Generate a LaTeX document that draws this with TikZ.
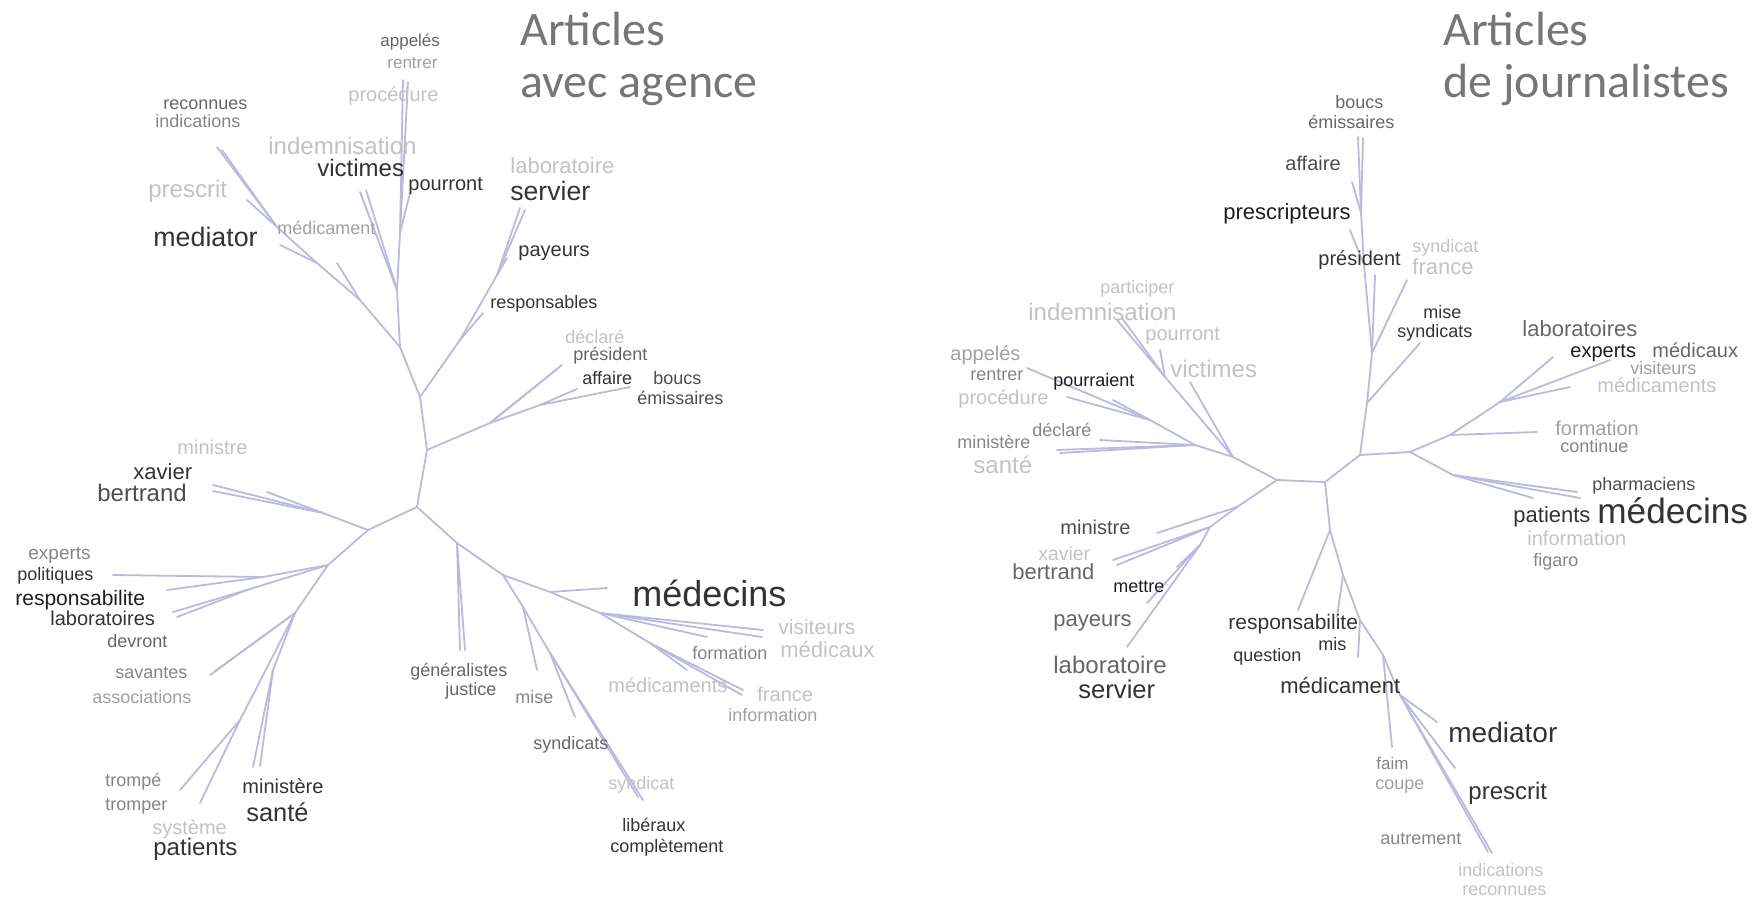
\documentclass[tikz,border=0pt]{standalone}
\usepackage{fontspec}
\setmainfont{Liberation Sans}
\newfontfamily\titlefont{Carlito}
\usepackage{xcolor}
\usepackage{tikz}
\definecolor{twig}{RGB}{186,186,222}
\definecolor{headgray}{HTML}{767676}
\definecolor{ink0}{HTML}{1E1E1E}
\definecolor{ink1}{HTML}{333333}
\definecolor{ink2}{HTML}{4D4D4D}
\definecolor{ink3}{HTML}{666666}
\definecolor{ink4}{HTML}{858585}
\definecolor{ink5}{HTML}{A0A0A0}
\definecolor{ink6}{HTML}{C2C2C2}
\tikzset{
    word/.style={anchor=mid west, inner sep=0pt},
    fs/.style={font=\fontsize{#1}{#1}\selectfont, yshift={-(0.3*#1-2)*1pt}},
    branch/.style={draw=twig, line width=0.9pt, line cap=round},
    heading/.style={anchor=base west, inner sep=0pt, text=headgray, font=\titlefont\fontsize{24}{24}\selectfont}
}

\begin{document}
\begin{tikzpicture}[x=0.5pt, y=-0.5pt]
    \useasboundingbox (0,0) rectangle (1754,900);

    % titles
    \node[heading] (hA1) at (520,45) {Articles};
    \node[heading] (hA2) at (520,97) {avec agence};
    \node[heading] (hJ1) at (1443,45) {Articles};
    \node[heading] (hJ2) at (1443,97) {de journalistes};

    % ---- tree: articles avec agence ----
    \coordinate (a0) at (417,507);
    \coordinate (a1) at (427,450);
    \coordinate (a2) at (420,397);
    \coordinate (aB1) at (490,423);
    \coordinate (aB2) at (540,405);
    \coordinate (aLdec) at (562,365);
    \coordinate (aLpre) at (557,369);
    \coordinate (aLaff) at (577,389);
    \coordinate (aLbou) at (630,387);
    \coordinate (aS1) at (460,340);
    \coordinate (aS2) at (497,275);
    \coordinate (aLresp) at (483,313);
    \coordinate (aLpay) at (507,258);
    \coordinate (aLser) at (520,208);
    \coordinate (aLlab) at (525,210);
    \coordinate (aU) at (400,347);
    \coordinate (aV1) at (397,290);
    \coordinate (aV2) at (400,233);
    \coordinate (aLapp) at (403,80);
    \coordinate (aLren) at (408,82);
    \coordinate (aLvic) at (360,192);
    \coordinate (aLind) at (366,190);
    \coordinate (aLpou) at (410,193);
    \coordinate (aM1) at (360,300);
    \coordinate (aM2) at (317,263);
    \coordinate (aM3) at (277,227);
    \coordinate (aLrec) at (217,147);
    \coordinate (aLindic) at (222,150);
    \coordinate (aLpres) at (247,200);
    \coordinate (aLmed) at (280,245);
    \coordinate (aLmedic) at (337,263);
    \coordinate (aX) at (368,530);
    \coordinate (aX1) at (323,513);
    \coordinate (aLxav) at (213,485);
    \coordinate (aLber) at (213,491);
    \coordinate (aLmin) at (267,492);
    \coordinate (aP) at (328,565);
    \coordinate (aP1) at (263,577);
    \coordinate (aP2) at (250,589);
    \coordinate (aLexp) at (113,575);
    \coordinate (aLpol) at (167,590);
    \coordinate (aLres) at (173,612);
    \coordinate (aLlabo) at (177,617);
    \coordinate (aQ) at (295,613);
    \coordinate (aQ1) at (273,670);
    \coordinate (aQ2) at (240,720);
    \coordinate (aLsav) at (210,675);
    \coordinate (aLass) at (214,672);
    \coordinate (aLmini) at (253,767);
    \coordinate (aLsan) at (260,766);
    \coordinate (aLtro) at (180,790);
    \coordinate (aLtrp) at (200,803);
    \coordinate (aR1) at (457,543);
    \coordinate (aLgen) at (460,650);
    \coordinate (aLjus) at (465,650);
    \coordinate (aR2) at (503,575);
    \coordinate (aR3) at (523,607);
    \coordinate (aR4) at (550,653);
    \coordinate (aLmise) at (537,670);
    \coordinate (aLsyn) at (575,717);
    \coordinate (aLlib) at (643,800);
    \coordinate (aLcom) at (638,797);
    \coordinate (aR5) at (550,592);
    \coordinate (aLmdc) at (607,588);
    \coordinate (aR6) at (600,613);
    \coordinate (aR7) at (650,643);
    \coordinate (aLvis) at (763,630);
    \coordinate (aLmcx) at (762,637);
    \coordinate (aLfor) at (707,637);
    \coordinate (aLmdt) at (687,670);
    \coordinate (aLfra) at (743,690);
    \coordinate (aLinf) at (742,695);

    \draw[branch] (a0) -- (a1) -- (a2);
    \draw[branch] (a1) -- (aB1) -- (aLdec);
    \draw[branch] (aB1) -- (aLpre);
    \draw[branch] (aB1) -- (aB2) -- (aLaff);
    \draw[branch] (aB2) -- (aLbou);
    \draw[branch] (a2) -- (aS1) -- (aLresp);
    \draw[branch] (aS1) -- (aS2) -- (aLpay);
    \draw[branch] (aS2) -- (aLser);
    \draw[branch] (aS2) -- (aLlab);
    \draw[branch] (a2) -- (aU) -- (aV1) -- (aV2) -- (aLapp);
    \draw[branch] (aV2) -- (aLren);
    \draw[branch] (aV2) -- (aLpou);
    \draw[branch] (aV1) -- (aLvic);
    \draw[branch] (aV1) -- (aLind);
    \draw[branch] (aU) -- (aM1) -- (aM2) -- (aM3) -- (aLrec);
    \draw[branch] (aM3) -- (aLindic);
    \draw[branch] (aM3) -- (aLpres);
    \draw[branch] (aM2) -- (aLmed);
    \draw[branch] (aM1) -- (aLmedic);
    \draw[branch] (a0) -- (aX) -- (aX1) -- (aLxav);
    \draw[branch] (aX1) -- (aLber);
    \draw[branch] (aX1) -- (aLmin);
    \draw[branch] (aX) -- (aP) -- (aP1) -- (aLexp);
    \draw[branch] (aP1) -- (aLpol);
    \draw[branch] (aP) -- (aP2) -- (aLres);
    \draw[branch] (aP2) -- (aLlabo);
    \draw[branch] (aP) -- (aQ) -- (aLsav);
    \draw[branch] (aQ) -- (aLass);
    \draw[branch] (aQ) -- (aQ1) -- (aLmini);
    \draw[branch] (aQ1) -- (aLsan);
    \draw[branch] (aQ) -- (aQ2) -- (aLtro);
    \draw[branch] (aQ2) -- (aLtrp);
    \draw[branch] (a0) -- (aR1) -- (aLgen);
    \draw[branch] (aR1) -- (aLjus);
    \draw[branch] (aR1) -- (aR2) -- (aR3) -- (aLmise);
    \draw[branch] (aR3) -- (aR4) -- (aLsyn);
    \draw[branch] (aR4) -- (aLlib);
    \draw[branch] (aR4) -- (aLcom);
    \draw[branch] (aR2) -- (aR5) -- (aLmdc);
    \draw[branch] (aR5) -- (aR6) -- (aLvis);
    \draw[branch] (aR6) -- (aLmcx);
    \draw[branch] (aR6) -- (aLfor);
    \draw[branch] (aR6) -- (aR7) -- (aLmdt);
    \draw[branch] (aR7) -- (aLfra);
    \draw[branch] (aR7) -- (aLinf);

    \node[word, fs=8.5, text=ink3] (aAppeles) at (380,40) {appelés};
    \node[word, fs=8.5, text=ink5] (aRentrer) at (387,62) {rentrer};
    \node[word, fs=10, text=ink6] (aProcedure) at (348,94) {procédure};
    \node[word, fs=9, text=ink3] (aReconnues) at (163,103) {reconnues};
    \node[word, fs=9, text=ink4] (aIndications) at (155,121) {indications};
    \node[word, fs=12, text=ink6] (aIndemnisation) at (268,146) {indemnisation};
    \node[word, fs=12, text=ink1] (aVictimes) at (317,168) {victimes};
    \node[word, fs=10, text=ink1] (aPourront) at (408,183) {pourront};
    \node[word, fs=12, text=ink6] (aPrescrit) at (148,189) {prescrit};
    \node[word, fs=9, text=ink5] (aMedicament) at (277,228) {médicament};
    \node[word, fs=13.4, text=ink1] (aMediator) at (153,237) {mediator};
    \node[word, fs=11, text=ink6] (aLaboratoire) at (510,166) {laboratoire};
    \node[word, fs=13.3, text=ink1] (aServier) at (510,191) {servier};
    \node[word, fs=10, text=ink1] (aPayeurs) at (518,249) {payeurs};
    \node[word, fs=9, text=ink1] (aResponsables) at (490,302) {responsables};
    \node[word, fs=9, text=ink6] (aDeclare) at (565,337) {déclaré};
    \node[word, fs=9, text=ink3] (aPresident) at (573,354) {président};
    \node[word, fs=9, text=ink1] (aAffaire) at (582,378) {affaire};
    \node[word, fs=9, text=ink2] (aBoucs) at (653,378) {boucs};
    \node[word, fs=9, text=ink2] (aEmissaires) at (637,398) {émissaires};
    \node[word, fs=10, text=ink6] (aMinistre) at (177,447) {ministre};
    \node[word, fs=11, text=ink1] (aXavier) at (133,472) {xavier};
    \node[word, fs=12, text=ink2] (aBertrand) at (97,493) {bertrand};
    \node[word, fs=9.5, text=ink4] (aExperts) at (28,553) {experts};
    \node[word, fs=9, text=ink1] (aPolitiques) at (17,574) {politiques};
    \node[word, fs=10.5, text=ink0] (aResponsabilite) at (15,598) {responsabilite};
    \node[word, fs=10, text=ink1] (aLaboratoires) at (50,618) {laboratoires};
    \node[word, fs=9, text=ink3] (aDevront) at (107,641) {devront};
    \node[word, fs=9, text=ink4] (aSavantes) at (115,672) {savantes};
    \node[word, fs=9, text=ink5] (aAssociations) at (92,697) {associations};
    \node[word, fs=9, text=ink4] (aTrompe) at (105,780) {trompé};
    \node[word, fs=9, text=ink4] (aTromper) at (105,804) {tromper};
    \node[word, fs=10, text=ink6] (aSysteme) at (152,827) {système};
    \node[word, fs=12, text=ink1] (aPatients) at (153,847) {patients};
    \node[word, fs=10, text=ink1] (aMinistere) at (242,786) {ministère};
    \node[word, fs=12.7, text=ink1] (aSante) at (246,813) {santé};
    \node[word, fs=18, text=ink1] (aMedecins) at (632,594) {médecins};
    \node[word, fs=10.5, text=ink6] (aVisiteurs) at (778,627) {visiteurs};
    \node[word, fs=11, text=ink6] (aMedicaux) at (780,650) {médicaux};
    \node[word, fs=9, text=ink4] (aFormation) at (692,653) {formation};
    \node[word, fs=10, text=ink6] (aMedicaments) at (608,685) {médicaments};
    \node[word, fs=10, text=ink6] (aFrance) at (757,694) {france};
    \node[word, fs=9, text=ink5] (aInformation) at (728,715) {information};
    \node[word, fs=9, text=ink3] (aGeneralistes) at (410,670) {généralistes};
    \node[word, fs=9, text=ink3] (aJustice) at (445,689) {justice};
    \node[word, fs=9, text=ink4] (aMise) at (515,697) {mise};
    \node[word, fs=9, text=ink3] (aSyndicats) at (533,743) {syndicats};
    \node[word, fs=9, text=ink6] (aSyndicat) at (608,783) {syndicat};
    \node[word, fs=9, text=ink1] (aLiberaux) at (622,825) {libéraux};
    \node[word, fs=9, text=ink1] (aCompletement) at (610,846) {complètement};

    % ---- tree: articles de journalistes ----
    \coordinate (j0) at (1277,480);
    \coordinate (j1) at (1325,482);
    \coordinate (j2) at (1360,455);
    \coordinate (j3) at (1410,452);
    \coordinate (jV1) at (1367,403);
    \coordinate (jLmis) at (1420,343);
    \coordinate (jV2) at (1372,353);
    \coordinate (jLfra) at (1407,280);
    \coordinate (jLpre) at (1375,275);
    \coordinate (jV3) at (1364,265);
    \coordinate (jLpsc) at (1350,230);
    \coordinate (jV4) at (1361,213);
    \coordinate (jLaff) at (1352,182);
    \coordinate (jLbou) at (1358,137);
    \coordinate (jLemi) at (1363,138);
    \coordinate (jE1) at (1450,435);
    \coordinate (jLfor) at (1537,432);
    \coordinate (jE2) at (1500,402);
    \coordinate (jLlab) at (1553,357);
    \coordinate (jLexp) at (1610,360);
    \coordinate (jLmdt) at (1570,387);
    \coordinate (jP1) at (1453,475);
    \coordinate (jLpat) at (1533,498);
    \coordinate (jLmdc) at (1580,498);
    \coordinate (jLpha) at (1577,492);
    \coordinate (jD1) at (1330,530);
    \coordinate (jLres) at (1298,610);
    \coordinate (jD2) at (1343,575);
    \coordinate (jLmis2) at (1337,617);
    \coordinate (jD3) at (1360,620);
    \coordinate (jLmed) at (1358,657);
    \coordinate (jD4) at (1383,655);
    \coordinate (jLfai) at (1392,747);
    \coordinate (jD5) at (1400,695);
    \coordinate (jLmdr) at (1437,722);
    \coordinate (jLpsc2) at (1455,768);
    \coordinate (jLind) at (1492,853);
    \coordinate (jLrec) at (1488,852);
    \coordinate (jL1) at (1233,457);
    \coordinate (jLvic) at (1190,382);
    \coordinate (jI1) at (1165,377);
    \coordinate (jLidm) at (1117,320);
    \coordinate (jLpar) at (1122,318);
    \coordinate (jLpou) at (1160,350);
    \coordinate (jL3) at (1195,445);
    \coordinate (jLmin) at (1057,450);
    \coordinate (jLsan) at (1060,453);
    \coordinate (jLdec) at (1100,440);
    \coordinate (jL4) at (1150,420);
    \coordinate (jLapp) at (1027,368);
    \coordinate (jLpro) at (1067,397);
    \coordinate (jLpor) at (1113,400);
    \coordinate (jM1) at (1237,507);
    \coordinate (jLmin2) at (1157,533);
    \coordinate (jM2) at (1210,527);
    \coordinate (jLxav) at (1113,560);
    \coordinate (jLber) at (1117,565);
    \coordinate (jM3) at (1200,545);
    \coordinate (jLlab2) at (1127,647);
    \coordinate (jLmet) at (1177,567);
    \coordinate (jLpay) at (1147,603);

    \draw[branch] (j0) -- (j1) -- (j2) -- (j3);
    \draw[branch] (j2) -- (jV1) -- (jLmis);
    \draw[branch] (jV1) -- (jV2) -- (jLfra);
    \draw[branch] (jV2) -- (jLpre);
    \draw[branch] (jV2) -- (jV3) -- (jLpsc);
    \draw[branch] (jV3) -- (jV4) -- (jLaff);
    \draw[branch] (jV4) -- (jLbou);
    \draw[branch] (jV4) -- (jLemi);
    \draw[branch] (j3) -- (jE1) -- (jLfor);
    \draw[branch] (jE1) -- (jE2) -- (jLlab);
    \draw[branch] (jE2) -- (jLexp);
    \draw[branch] (jE2) -- (jLmdt);
    \draw[branch] (j3) -- (jP1) -- (jLpat);
    \draw[branch] (jP1) -- (jLmdc);
    \draw[branch] (jP1) -- (jLpha);
    \draw[branch] (j1) -- (jD1) -- (jLres);
    \draw[branch] (jD1) -- (jD2) -- (jLmis2);
    \draw[branch] (jD2) -- (jD3) -- (jLmed);
    \draw[branch] (jD3) -- (jD4) -- (jLfai);
    \draw[branch] (jD4) -- (jD5) -- (jLmdr);
    \draw[branch] (jD5) -- (jLpsc2);
    \draw[branch] (jD5) -- (jLind);
    \draw[branch] (jD5) -- (jLrec);
    \draw[branch] (j0) -- (jL1) -- (jLvic);
    \draw[branch] (jL1) -- (jI1) -- (jLidm);
    \draw[branch] (jI1) -- (jLpar);
    \draw[branch] (jI1) -- (jLpou);
    \draw[branch] (jL1) -- (jL3) -- (jLmin);
    \draw[branch] (jL3) -- (jLsan);
    \draw[branch] (jL3) -- (jLdec);
    \draw[branch] (jL3) -- (jL4) -- (jLapp);
    \draw[branch] (jL4) -- (jLpro);
    \draw[branch] (jL4) -- (jLpor);
    \draw[branch] (j0) -- (jM1) -- (jLmin2);
    \draw[branch] (jM1) -- (jM2) -- (jLxav);
    \draw[branch] (jM2) -- (jLber);
    \draw[branch] (jM2) -- (jM3) -- (jLlab2);
    \draw[branch] (jM3) -- (jLmet);
    \draw[branch] (jM3) -- (jLpay);

    \node[word, fs=9, text=ink3] (jBoucs) at (1335,102) {boucs};
    \node[word, fs=9, text=ink3] (jEmissaires) at (1308,122) {émissaires};
    \node[word, fs=10, text=ink2] (jAffaire) at (1285,163) {affaire};
    \node[word, fs=11, text=ink0] (jPrescripteurs) at (1223,212) {prescripteurs};
    \node[word, fs=10, text=ink1] (jPresident) at (1318,258) {président};
    \node[word, fs=9, text=ink6] (jSyndicat) at (1412,246) {syndicat};
    \node[word, fs=11, text=ink6] (jFrance) at (1412,267) {france};
    \node[word, fs=9, text=ink1] (jMise) at (1423,312) {mise};
    \node[word, fs=9, text=ink1] (jSyndicats) at (1397,331) {syndicats};
    \node[word, fs=11, text=ink3] (jLaboratoires) at (1522,329) {laboratoires};
    \node[word, fs=10, text=ink0] (jExperts) at (1570,350) {experts};
    \node[word, fs=10, text=ink3] (jMedicaux) at (1652,350) {médicaux};
    \node[word, fs=9, text=ink5] (jVisiteurs) at (1630,368) {visiteurs};
    \node[word, fs=10, text=ink6] (jMedicaments) at (1597,385) {médicaments};
    \node[word, fs=10, text=ink5] (jFormation) at (1555,428) {formation};
    \node[word, fs=9, text=ink4] (jContinue) at (1560,446) {continue};
    \node[word, fs=9, text=ink2] (jPharmaciens) at (1592,484) {pharmaciens};
    \node[word, fs=11, text=ink1] (jPatients) at (1513,515) {patients};
    \node[word, fs=17.6, text=ink1] (jMedecins) at (1597,512) {médecins};
    \node[word, fs=10, text=ink6] (jInformation) at (1527,538) {information};
    \node[word, fs=9, text=ink4] (jFigaro) at (1533,560) {figaro};
    \node[word, fs=14, text=ink1] (jMediator) at (1448,733) {mediator};
    \node[word, fs=12, text=ink1] (jPrescrit) at (1468,791) {prescrit};
    \node[word, fs=8.5, text=ink4] (jFaim) at (1376,763) {faim};
    \node[word, fs=9, text=ink5] (jCoupe) at (1375,783) {coupe};
    \node[word, fs=9, text=ink4] (jAutrement) at (1380,838) {autrement};
    \node[word, fs=9, text=ink6] (jIndications) at (1458,870) {indications};
    \node[word, fs=9, text=ink6] (jReconnues) at (1462,889) {reconnues};
    \node[word, fs=11, text=ink1] (jMedicament) at (1280,686) {médicament};
    \node[word, fs=9, text=ink1] (jMis) at (1318,644) {mis};
    \node[word, fs=9, text=ink1] (jQuestion) at (1233,655) {question};
    \node[word, fs=10.5, text=ink1] (jResponsabilite) at (1228,622) {responsabilite};
    \node[word, fs=10, text=ink2] (jMinistre) at (1060,527) {ministre};
    \node[word, fs=9.7, text=ink6] (jXavier) at (1038,553) {xavier};
    \node[word, fs=11, text=ink3] (jBertrand) at (1012,572) {bertrand};
    \node[word, fs=9, text=ink0] (jMettre) at (1113,586) {mettre};
    \node[word, fs=11, text=ink3] (jPayeurs) at (1053,619) {payeurs};
    \node[word, fs=12, text=ink3] (jLaboratoire) at (1053,665) {laboratoire};
    \node[word, fs=12.8, text=ink1] (jServier) at (1078,690) {servier};
    \node[word, fs=9, text=ink4] (jDeclare) at (1032,430) {déclaré};
    \node[word, fs=9, text=ink4] (jMinistere) at (957,442) {ministère};
    \node[word, fs=12, text=ink6] (jSante) at (973,465) {santé};
    \node[word, fs=9, text=ink6] (jParticiper) at (1100,287) {participer};
    \node[word, fs=12, text=ink6] (jIndemnisation) at (1028,312) {indemnisation};
    \node[word, fs=10, text=ink6] (jPourront) at (1145,333) {pourront};
    \node[word, fs=12, text=ink6] (jVictimes) at (1170,369) {victimes};
    \node[word, fs=10, text=ink5] (jAppeles) at (950,353) {appelés};
    \node[word, fs=9, text=ink4] (jRentrer) at (970,374) {rentrer};
    \node[word, fs=9, text=ink0] (jPourraient) at (1053,380) {pourraient};
    \node[word, fs=10, text=ink6] (jProcedure) at (958,397) {procédure};

\end{tikzpicture}
\end{document}
